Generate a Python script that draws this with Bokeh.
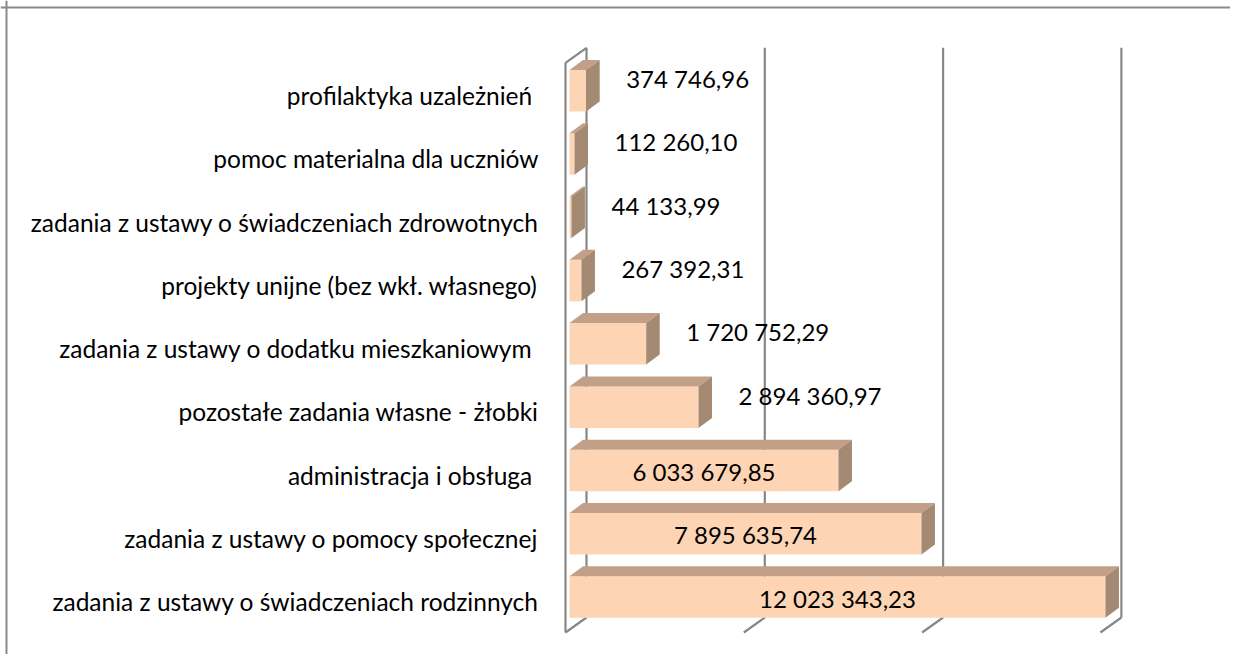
import numpy as np
from bokeh.plotting import figure
from bokeh.models import Range1d, ColumnDataSource, Span
from bokeh.embed import file_html
from bokeh.resources import INLINE
from bokeh.core.properties import value

# ---------------- data ----------------
categories = [
    "profilaktyka uzależnień ",
    "pomoc materialna dla uczniów",
    "zadania z ustawy o świadczeniach zdrowotnych",
    "projekty unijne (bez wkł. własnego)",
    "zadania z ustawy o dodatku mieszkaniowym ",
    "pozostałe zadania własne - żłobki",
    "administracja i obsługa ",
    "zadania z ustawy o pomocy społecznej",
    "zadania z ustawy o świadczeniach rodzinnych",
]
values = [
    374746.96,
    112260.10,
    44133.99,
    267392.31,
    1720752.29,
    2894360.97,
    6033679.85,
    7895635.74,
    12023343.23,
]
grid_values = [0, 4_000_000, 8_000_000, 12_000_000]

# ---------------- geometry ----------------
W, H = 1230, 654
x0_px = 565.0              # frame px of value 0 (front plane)
px_per_val = 44.575 / 1e6  # pixels per unit value
row_px = 63.3              # pixels per category row
floor_px = 632.0           # frame px (from top) of front floor edge

x_start = -x0_px / px_per_val
x_end = (W - x0_px) / px_per_val
y_start = -(H - floor_px) / row_px - 0.5
y_end = floor_px / row_px - 0.5


def dx(px):
    return px / px_per_val


def dy(px):
    return px / row_px


n = len(categories)
ys = np.arange(n)[::-1].astype(float)  # top category highest
vals = np.array(values)

p = figure(width=W, height=H, output_backend="svg", toolbar_location=None,
           x_range=Range1d(x_start, x_end), y_range=Range1d(y_start, y_end),
           min_border=0, x_axis_location=None, y_axis_location=None)
p.xgrid.visible = False
p.ygrid.visible = False
p.outline_line_color = None
p.background_fill_color = "white"
p.border_fill_color = "white"

grid_col = "#878787"

# wall depth
wdx, wdy = dx(21), dy(15)
top = n - 0.5
bot = -0.5
gx, gy = [], []
for g in grid_values:
    gx.append([g + wdx, g + wdx]); gy.append([bot + wdy, top + wdy])
    gx.append([g, g + wdx]); gy.append([bot, bot + wdy])
    if g == 0:
        gx.append([g, g]); gy.append([bot, top])
        gx.append([g, g + wdx]); gy.append([top, top + wdy])
p.multi_line(gx, gy, line_color=grid_col, line_width=2.2)

# bars
sdx, sdy = dx(4), dy(3.8)
half_h = dy(41.5) / 2
bdx, bdy = dx(13.5), dy(10)

left = np.full(n, sdx)
right = vals + sdx
yc = ys + sdy
btm = yc - half_h
tp = yc + half_h

front_col = "#FDD5B4"
top_col = "#C2A088"
side_col = "#A58A73"

p.quad(left=left, right=right, bottom=btm, top=tp,
       fill_color=front_col, line_color=None)
top_xs = [[l, r, r + bdx, l + bdx] for l, r in zip(left, right)]
top_ys = [[t, t, t + bdy, t + bdy] for t in tp]
p.patches(top_xs, top_ys, fill_color=top_col, line_color=None)
side_xs = [[r, r, r + bdx, r + bdx] for r in right]
side_ys = [[b, t, t + bdy, b + bdy] for b, t in zip(btm, tp)]
p.patches(side_xs, side_ys, fill_color=side_col, line_color=None)

# category labels
p.text(x=np.zeros(n), y=ys, text=categories, text_align="right",
       text_baseline="middle", x_offset=-27, y_offset=1,
       text_font=value("Lato"), text_font_size="24.5px", text_color="black")


def fmt(v):
    s = f"{v:,.2f}"
    return s.replace(",", " ").replace(".", ",")


labels = [fmt(v) for v in values]
inside = vals >= 5e6
out_src = ColumnDataSource(dict(x=right[~inside], y=yc[~inside],
                                t=[l for l, i in zip(labels, inside) if not i]))
in_src = ColumnDataSource(dict(x=(left[inside] + right[inside]) / 2, y=yc[inside],
                               t=[l for l, i in zip(labels, inside) if i]))
p.text(x="x", y="y", text="t", source=out_src, text_align="left",
       text_baseline="middle", x_offset=40, y_offset=-12,
       text_font=value("Lato"), text_font_size="24px", text_color="black")
p.text(x="x", y="y", text="t", source=in_src, text_align="center",
       text_baseline="middle", y_offset=1,
       text_font=value("Lato"), text_font_size="24px", text_color="black")

# chart border (top and left edges visible)
p.add_layout(Span(location=y_end - dy(7), dimension="width",
                  line_color="#8a8a8a", line_width=2))
p.add_layout(Span(location=x_start + dx(6), dimension="height",
                  line_color="#8a8a8a", line_width=2))

open("out.html", "w").write(file_html(p, INLINE))
